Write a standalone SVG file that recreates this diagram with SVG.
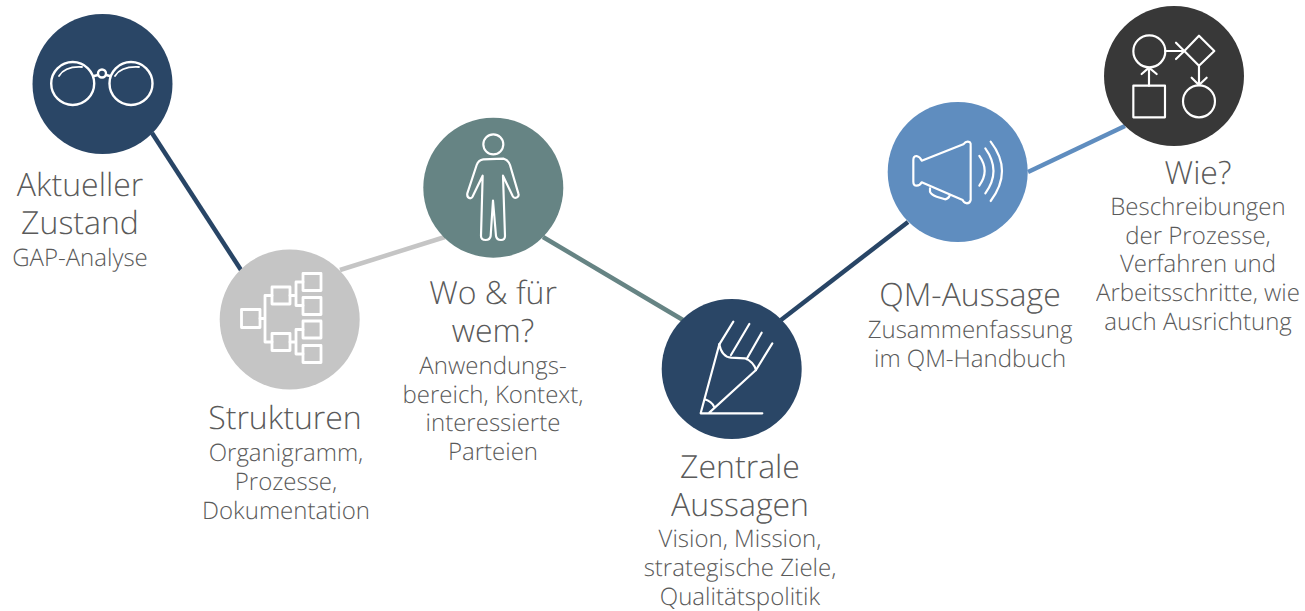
<svg xmlns="http://www.w3.org/2000/svg" width="1305" height="611" viewBox="0 0 1305 611">
<style>
text{font-family:"Open Sans","Noto Sans","Liberation Sans",sans-serif;font-weight:300;fill:#595959;text-anchor:middle;text-rendering:geometricPrecision;opacity:.99}
.h{font-size:32px}
.s{font-size:24px}
.i{fill:none;stroke:#fff;stroke-linecap:round;stroke-linejoin:round}
.z{stroke-width:6.5}
.c{fill:none;stroke-width:4.5}
</style>
<rect width="1305" height="611" fill="#fff"/>
<g id="connectors">
<line class="c" x1="152" y1="133" x2="241" y2="270" stroke="#284566"/>
<line class="c" x1="340" y1="270" x2="445" y2="237" stroke="#c5c5c5"/>
<line class="c" x1="543" y1="237" x2="683" y2="320" stroke="#668484"/>
<line class="c" x1="781" y1="320" x2="908" y2="222" stroke="#284566"/>
<line class="c" x1="1028" y1="172" x2="1125" y2="126" stroke="#5f8dbf"/>
</g>
<g id="node-aktuell">
<circle cx="102.500" cy="84" r="70" fill="#2a4666"/>
<g class="i" stroke-width="2.400">
<circle cx="72.700" cy="83.500" r="21.500"/><circle cx="131" cy="83.500" r="21.500"/><circle cx="102" cy="73.500" r="4"/>
<path d="M94 76l4-1M106 75l4 1"/>
<path d="M59 76Q65 66 82 67M115 76Q121 66 139 67" stroke-width="1.800"/>
</g>
<text class="h" x="80" y="196">Aktueller</text><text class="h" x="80" y="234">Zustand</text>
<text class="s" x="80" y="266">GAP-Analyse</text>
</g>
<g id="node-strukturen">
<circle cx="289.700" cy="319.500" r="70" fill="#c5c5c5"/>
<g class="i" stroke-width="2.800" stroke-linejoin="miter">
<rect x="241.500" y="309.500" width="18.500" height="18"/><rect x="272" y="287" width="18" height="17"/><rect x="272" y="333.500" width="18" height="17"/>
<rect x="303" y="273.500" width="18" height="17"/><rect x="303" y="297.500" width="18" height="17"/><rect x="303" y="321" width="18" height="17"/><rect x="303" y="345.500" width="18" height="17"/>
<path d="M260 318.500h5M272 295.500h-7v46.500h7M290 295.500h6M303 282h-7v23.500h7M290 342h6M303 329.500h-7v24.500h7"/>
</g>
<text class="h" x="285" y="429">Strukturen</text>
<text class="s" x="286" y="461">Organigramm,</text><text class="s" x="286" y="490">Prozesse,</text><text class="s" x="286" y="519">Dokumentation</text>
</g>
<g id="node-wo">
<circle cx="493.300" cy="187.700" r="70" fill="#668484"/>
<g class="i z" transform="translate(415 110) scale(.3333)">
<circle cx="235" cy="103" r="30"/>
<path d="M205 148Q190 150 185 165L157 250Q155 262 165 265Q172 265 175 255L203 197L198 378Q198 390 212 390Q225 390 227 378L234 272L243 378Q245 390 258 390Q270 390 270 378L264 197L293 258Q298 267 306 262Q313 258 310 250L285 165Q280 150 265 146Z"/>
</g>
<text class="h" x="493" y="304">Wo &amp; für</text><text class="h" x="493" y="342">wem?</text>
<text class="s" x="493" y="374">Anwendungs-</text><text class="s" x="493" y="403">bereich, Kontext,</text><text class="s" x="493" y="431">interessierte</text><text class="s" x="493" y="460">Parteien</text>
</g>
<g id="node-zentrale">
<circle cx="731.700" cy="369" r="70" fill="#2a4666"/>
<g class="i z" transform="translate(650 290) scale(.3333)">
<path d="M250 95L208 163M298 102L243 195M335 128L290 207M367 160L318 240"/>
<path d="M208 163Q215 200 243 203L285 205Q310 215 318 240"/>
<path d="M208 163L152 370M318 240L178 368M152 370H337M165 328Q185 335 192 350"/>
</g>
<text class="h" x="740" y="478">Zentrale</text><text class="h" x="740" y="516">Aussagen</text>
<text class="s" x="740" y="547">Vision, Mission,</text><text class="s" x="740" y="576">strategische Ziele,</text><text class="s" x="740" y="605">Qualitätspolitik</text>
</g>
<g id="node-qm">
<circle cx="957.700" cy="172" r="70" fill="#5f8dbf"/>
<g class="i z" transform="translate(880 95) scale(.3333)">
<path d="M100 195Q100 183 110 183Q120 185 125 197L250 148Q260 135 270 142Q273 145 272 155L272 315Q270 325 260 325Q250 322 248 315L125 262Q120 272 110 272Q100 272 100 260Z"/>
<path d="M150 280V290Q155 300 170 305L195 313Q205 312 210 300"/>
<path d="M298 183Q330 228 298 272M316 160Q365 228 316 295M332 140Q400 228 332 318"/>
</g>
<text class="h" x="970" y="306">QM-Aussage</text>
<text class="s" x="970" y="338">Zusammenfassung</text><text class="s" x="970" y="367">im QM-Handbuch</text>
</g>
<g id="node-wie">
<circle cx="1174" cy="76" r="70" fill="#383838"/>
<g class="i z" transform="translate(1095 0) scale(.3333)">
<circle cx="163" cy="154" r="48"/><rect x="115" y="257" width="95" height="95"/><circle cx="312" cy="304" r="48"/>
<path d="M312 107L358 153L312 197L268 153Z"/>
<path d="M210 153H268M243 128L268 153L243 177M162 257V205M140 222L162 203L185 222M312 197V255M290 233L312 255L335 233"/>
</g>
<text class="h" x="1198" y="184">Wie?</text>
<text class="s" x="1198" y="215">Beschreibungen</text><text class="s" x="1198" y="244">der Prozesse,</text><text class="s" x="1198" y="272">Verfahren und</text><text class="s" x="1198" y="301">Arbeitsschritte, wie</text><text class="s" x="1198" y="330">auch Ausrichtung</text>
</g>
</svg>
